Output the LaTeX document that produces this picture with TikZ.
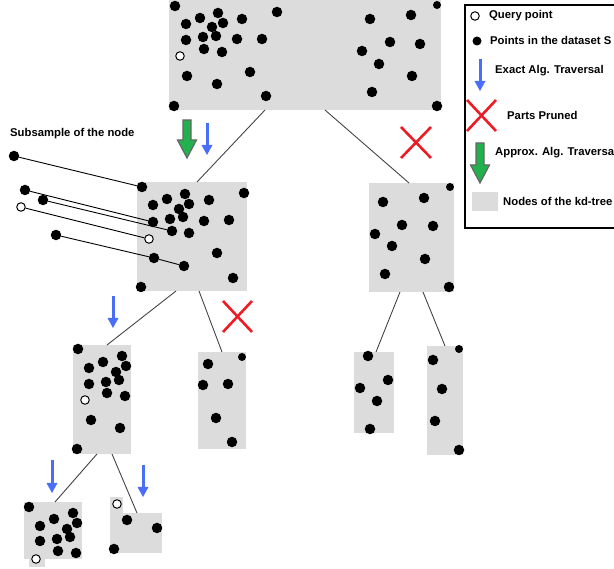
\documentclass[tikz,border=0pt]{standalone}
\usepackage{fontspec}
\setmainfont{Liberation Sans}
\pgfdeclarelayer{back}
\pgfdeclarelayer{mid}
\pgfsetlayers{back,mid,main}
\definecolor{nodegray}{HTML}{DCDCDC}
\definecolor{exblue}{HTML}{4A6EF5}
\definecolor{prred}{HTML}{ED1C24}
\definecolor{apgreen}{HTML}{22B14C}
\definecolor{edgegray}{HTML}{444444}
\tikzset{
  treenode/.style={fill=nodegray, draw=none, inner sep=0pt, outer sep=0pt, anchor=north west},
  pt/.style={circle, fill=black, inner sep=0pt, minimum size=10.5pt},
  ptsmall/.style={circle, fill=black, inner sep=0pt, minimum size=8pt},
  qpt/.style={circle, draw=black, fill=white, line width=1pt, inner sep=0pt, minimum size=8.5pt},
  treeedge/.style={draw=edgegray, line width=0.9pt},
  subline/.style={draw=black, line width=0.9pt},
  prunex/.style={draw=prred, line width=2.6pt},
  lbl/.style={font=\bfseries\fontsize{11.3}{13}\selectfont, anchor=west, inner sep=0pt},
  legendbox/.style={draw=black, line width=2.2pt}
}
\newcommand{\tnode}[5]{\node[treenode, minimum width={#4pt-#2pt}, minimum height={#5pt-#3pt}] (#1) at (#2,#3) {};}
\newcommand{\bluearrow}[3]{%
  \draw[exblue, line width=3pt] (#1,#2) -- (#1,#3-8);
  \fill[exblue] (#1-5.5,#3-10) -- (#1+5.5,#3-10) -- (#1,#3) -- cycle;}
\newcommand{\greenarrow}[3]{%
  \filldraw[fill=apgreen, draw=gray!80!black, line width=1.2pt, line join=miter]
    (#1-4,#2) -- (#1+4,#2) -- (#1+4,#3-18) -- (#1+9.5,#3-18) -- (#1,#3) -- (#1-9.5,#3-18) -- (#1-4,#3-18) -- cycle;}
\newcommand{\redx}[4]{%
  \draw[prunex] (#1,#2) -- (#3,#4);
  \draw[prunex] (#1,#4) -- (#3,#2);}
\begin{document}
\begin{tikzpicture}[x=1pt,y=-1pt]
\useasboundingbox (0,0) rectangle (614,569);
% ---------- tree nodes ----------
\begin{pgfonlayer}{back}
\tnode{top}{169}{0}{441}{110}
\tnode{n2}{137}{182}{247}{291}
\tnode{n3}{369}{183}{454}{292}
\tnode{n2L}{73}{345}{131}{454}
\tnode{n2R}{198}{352}{246}{449}
\tnode{n3L}{354}{352}{394}{433}
\tnode{n3R}{427}{346}{463}{455}
\tnode{b1}{24}{502}{82}{559}
\tnode{b2}{110}{513}{162}{553}
\fill[nodegray] (29,558) rectangle (45,567);
\fill[nodegray] (110,497) rectangle (123,514);
\end{pgfonlayer}
% ---------- tree edges ----------
\draw[treeedge] ([xshift=96pt]top.south west) -- ([xshift=60pt]n2.north west);
\draw[treeedge] ([xshift=156pt]top.south west) -- ([xshift=40pt]n3.north west);
\draw[treeedge] ([xshift=39pt]n2.south west) -- ([xshift=34pt]n2L.north west);
\draw[treeedge] ([xshift=62pt]n2.south west) -- ([xshift=24pt]n2R.north west);
\draw[treeedge] ([xshift=31pt]n3.south west) -- ([xshift=22pt]n3L.north west);
\draw[treeedge] ([xshift=54pt]n3.south west) -- ([xshift=18pt]n3R.north west);
\draw[treeedge] ([xshift=24pt]n2L.south west) -- ([xshift=31pt]b1.north west);
\draw[treeedge] ([xshift=39pt]n2L.south west) -- ([xshift=27pt]b2.north west);
% ---------- points: root ----------
\foreach \p in {(175,6),(277,12),(218,13),(200,18),(242,19),(186,24),(223,23),(212,27),(186,40),(203,37),(216,36),(237,39),(262,39),(204,49),(222,52),(187,76),(250,72),(217,84),(266,96),(174,106),(370,19),(411,15),(390,42),(420,44),(362,51),(379,64),(412,76),(372,92),(437,106)}
  \node[pt] at \p {};
\node[ptsmall] at (437,5) {};
\node[qpt] (qtop) at (180,56) {};
% ---------- points: node 2 ----------
\foreach \p in {(244,193),(185,194),(167,199),(153,205),(189,204),(209,200),(179,209),(183,217),(170,219),(204,221),(229,220),(189,233),(217,253),(233,278),(141,287)}
  \node[pt] at \p {};
\node[pt] (d1) at (142,187) {};
\node[pt] (d2) at (153,222) {};
\node[pt] (d3) at (172,231) {};
\node[qpt] (dq) at (149,239) {};
\node[pt] (d4) at (154,258) {};
\node[pt] (d5) at (184,266) {};
% ---------- subsample ----------
\node[pt] (s1) at (14,156) {};
\node[pt] (s2) at (25,190) {};
\node[pt] (s3) at (43,200) {};
\node[qpt] (sq) at (21,207) {};
\node[pt] (s4) at (56,235) {};
\begin{pgfonlayer}{mid}
\draw[subline] (s1) -- (d1);
\draw[subline] (s2) -- (d2);
\draw[subline] (s3) -- (d3);
\draw[subline] (sq) -- (dq);
\draw[subline] (s4) -- (d4) -- (d5);
\end{pgfonlayer}
\node[lbl] (subtxt) at (10,134) {Subsample of the node};
% ---------- points: node 3 ----------
\foreach \p in {(383,202),(424,198),(402,225),(433,226),(375,234),(392,246),(425,259),(385,274),(449,287)}
  \node[pt] at \p {};
\node[ptsmall] at (450,187) {};
% ---------- points: level 2 ----------
\foreach \p in {(78,349),(122,356),(103,362),(89,368),(126,366),(116,372),(119,380),(106,382),(89,384),(107,393),(125,396),(91,420),(120,428),(77,449)}
  \node[pt] at \p {};
\node[qpt] (q2L) at (85,400) {};
\foreach \p in {(208,364),(203,385),(228,384),(216,418),(232,442)}
  \node[pt] at \p {};
\node[ptsmall] at (242,357) {};
\foreach \p in {(368,356),(388,380),(360,388),(377,401),(370,429)}
  \node[pt] at \p {};
\foreach \p in {(433,360),(442,389),(435,421),(459,450)}
  \node[pt] at \p {};
\node[ptsmall] at (459,349) {};
% ---------- points: leaves ----------
\foreach \p in {(29,507),(73,513),(54,519),(77,523),(40,526),(67,529),(70,537),(57,539),(40,541),(58,551),(76,553)}
  \node[pt] at \p {};
\node[qpt] (qb1) at (36,559) {};
\node[qpt] (qb2) at (117,504) {};
\foreach \p in {(127,520),(157,528),(114,549)}
  \node[pt] at \p {};
% ---------- traversal marks ----------
\greenarrow{187}{120}{158}
\bluearrow{207}{123}{155}
\bluearrow{113}{296}{328}
\bluearrow{52}{460}{493}
\bluearrow{143}{465}{497}
\redx{401}{127}{431}{158}
\redx{223}{301}{252}{332}
% ---------- legend ----------
\draw[legendbox] (465,5) rectangle (640,228);
\node[qpt] (lq) at (475,16) {};
\node[lbl] (lqt) at (489,16) {Query point};
\node[pt, minimum size=9pt] (lp) at (477,41) {};
\node[lbl] (lpt) at (490,40) {Points in the dataset S};
\bluearrow{480}{59}{91}
\node[lbl] (let) at (495,71) {Exact Alg. Traversal};
\redx{467}{100}{496}{131}
\node[lbl] (lrt) at (507,115) {Parts Pruned};
\greenarrow{480}{143}{183}
\node[lbl] (lgt) at (495,153) {Approx. Alg. Traversal};
\fill[nodegray] (472,192) rectangle (498,211);
\node[lbl] (lnt) at (503,201) {Nodes of the kd-tree};
\end{tikzpicture}
\end{document}
